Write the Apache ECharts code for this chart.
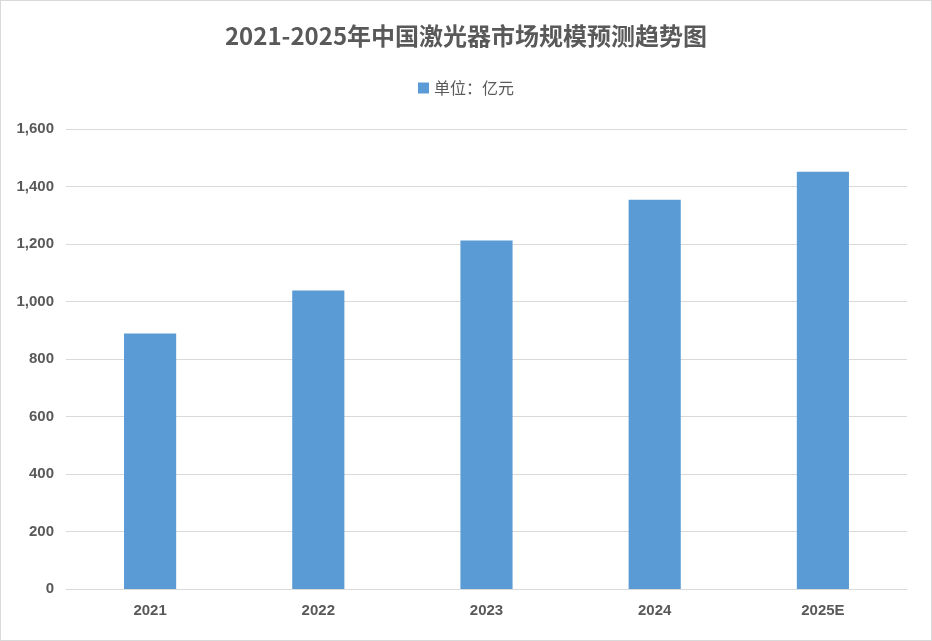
<!DOCTYPE html>
<html><head><meta charset="utf-8">
<script src="https://cdn.jsdelivr.net/npm/echarts@6/dist/echarts.min.js"></script>
<style>html,body{margin:0;padding:0;background:#fff}#c{width:932px;height:641px;box-sizing:border-box;border:1px solid #d9d9d9}</style>
</head><body><div id="c"></div>
<script>
const categories = ['2021','2022','2023','2024','2025E'];
const values = [889, 1038, 1212, 1354, 1451];
const seriesName = '单位：亿元';
const titleText = '2021-2025年中国激光器市场规模预测趋势图';
const chart = echarts.init(document.getElementById('c'));
chart.setOption({
  animation:false,
  title:{text:titleText,left:'center',top:18,textStyle:{fontSize:24,fontWeight:'bold',color:'#595959',fontFamily:'"Noto Sans CJK SC",sans-serif'}},
  legend:{top:74,left:'center',icon:'rect',itemWidth:11,itemHeight:11,textStyle:{fontSize:16,color:'#595959',fontFamily:'"Noto Sans CJK SC",sans-serif'},data:[seriesName]},
  grid:{left:65,right:24,top:128,bottom:51},
  xAxis:{type:'category',data:categories,axisTick:{show:false},axisLine:{lineStyle:{color:'#d9d9d9'}},
    axisLabel:{color:'#595959',fontSize:15,fontWeight:'bold',margin:14}},
  yAxis:{type:'value',min:0,max:1600,interval:200,axisLabel:{color:'#595959',fontSize:15,fontWeight:'bold',margin:12},
    splitLine:{lineStyle:{color:'#d9d9d9'}}},
  series:[{name:seriesName,type:'bar',data:values,barWidth:'31%',itemStyle:{color:'#5b9bd5'}}]
});
</script></body></html>
